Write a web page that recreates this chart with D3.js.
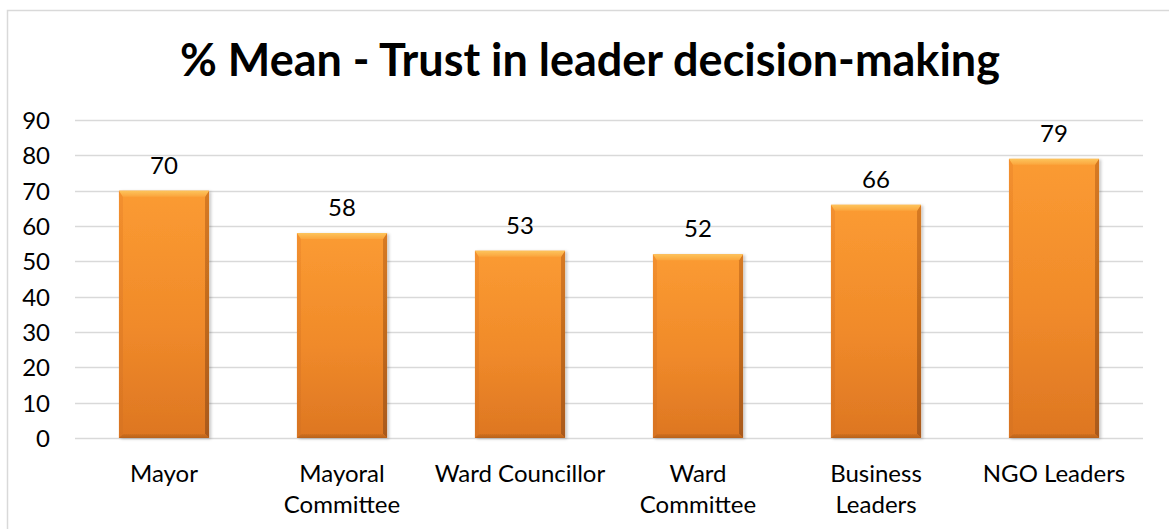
<!DOCTYPE html>
<html>
<head>
<meta charset="utf-8">
<script src="https://cdn.jsdelivr.net/npm/d3@7"></script>
<style>
  html, body { margin: 0; padding: 0; background: #ffffff; }
  svg { display: block; font-family: Lato, "Open Sans", sans-serif; }
</style>
</head>
<body>
<svg id="chart" width="1169" height="529"></svg>
<script>
// Chart content
const title = "% Mean - Trust in leader decision-making";
const categories = ["Mayor", "Mayoral Committee", "Ward Councillor", "Ward Committee", "Business Leaders", "NGO Leaders"];
const categoryLines = [["Mayor"], ["Mayoral", "Committee"], ["Ward Councillor"], ["Ward", "Committee"], ["Business", "Leaders"], ["NGO Leaders"]];
const meanTrust = [70, 58, 53, 52, 66, 79];
const yTicks = [0, 10, 20, 30, 40, 50, 60, 70, 80, 90];

const svg = d3.select("#chart");
const W = 1169, H = 529;
const plot = { left: 75, right: 1143, top: 120, bottom: 438 };

// Chart-area frame (runs past the right and bottom edges)
svg.append("rect")
  .attr("x", 7.5).attr("y", 10.5)
  .attr("width", W + 20).attr("height", H + 20)
  .attr("fill", "#ffffff").attr("stroke", "#d9d9d9").attr("stroke-width", 1.5);

// Scales
const x = d3.scaleBand().domain(categories).range([plot.left, plot.right]).paddingInner(0.494).paddingOuter(0.247);
const y = d3.scaleLinear().domain([0, 90]).range([plot.bottom, plot.top]);

// Gradients for the bevelled bars
const defs = svg.append("defs");
function vGrad(id, stops) {
  const g = defs.append("linearGradient").attr("id", id).attr("x1", 0).attr("y1", 0).attr("x2", 0).attr("y2", 1);
  stops.forEach(([o, c]) => g.append("stop").attr("offset", o).attr("stop-color", c));
}
vGrad("barBody", [["0%", "#fb9b32"], ["55%", "#f08a2a"], ["100%", "#dd7622"]]);
vGrad("barTop", [["0%", "#fdc45c"], ["100%", "#fba53c"]]);
vGrad("barRight", [["0%", "#d77a22"], ["100%", "#a9591a"]]);
vGrad("barLeft", [["0%", "#f3902e"], ["100%", "#d87322"]]);
vGrad("barBottom", [["0%", "#d27020"], ["100%", "#b8621c"]]);
defs.append("filter").attr("id", "shadow").attr("x", "-10%").attr("y", "-5%").attr("width", "130%").attr("height", "115%")
  .append("feDropShadow").attr("dx", 2).attr("dy", 1).attr("stdDeviation", 1.5)
  .attr("flood-color", "#000").attr("flood-opacity", 0.22);

// Gridlines
svg.append("g").selectAll("line").data(yTicks).join("line")
  .attr("x1", plot.left).attr("x2", plot.right)
  .attr("y1", d => Math.round(y(d)) + 0.5).attr("y2", d => Math.round(y(d)) + 0.5)
  .attr("stroke", "#d9d9d9").attr("stroke-width", 1.5);

// Y axis labels
const yAxis = svg.append("g").attr("transform", `translate(${plot.left - 25},0)`)
  .call(d3.axisLeft(y).tickValues(yTicks).tickSize(0).tickPadding(0));
yAxis.select(".domain").remove();
yAxis.selectAll("text")
  .attr("font-family", "Lato, sans-serif").attr("font-size", 24).attr("fill", "#000")
  .attr("dy", "0.36em");

// Bars with bevelled edges
const bt = 6, bs = 4;
const bars = svg.append("g").selectAll("g").data(meanTrust).join("g")
  .attr("filter", "url(#shadow)");
bars.each(function (v, i) {
  const g = d3.select(this);
  const x0 = x(categories[i]), x1 = x0 + x.bandwidth();
  const y0 = y(v), y1 = y(0);
  g.append("rect").attr("x", x0).attr("y", y0).attr("width", x1 - x0).attr("height", y1 - y0).attr("fill", "url(#barBody)");
  // left bevel
  g.append("path").attr("d", `M${x0},${y0}L${x0 + bs},${y0 + bt}L${x0 + bs},${y1 - bs}L${x0},${y1}Z`).attr("fill", "url(#barLeft)");
  // right bevel
  g.append("path").attr("d", `M${x1},${y0}L${x1},${y1}L${x1 - bs},${y1 - bs}L${x1 - bs},${y0 + bt}Z`).attr("fill", "url(#barRight)");
  // bottom bevel
  g.append("path").attr("d", `M${x0},${y1}L${x1},${y1}L${x1 - bs},${y1 - bs}L${x0 + bs},${y1 - bs}Z`).attr("fill", "url(#barBottom)");
  // top bevel
  g.append("path").attr("d", `M${x0},${y0}L${x1},${y0}L${x1 - bs},${y0 + bt}L${x0 + bs},${y0 + bt}Z`).attr("fill", "url(#barTop)");
});

// Value labels
svg.append("g").selectAll("text").data(meanTrust).join("text")
  .attr("x", (d, i) => x(categories[i]) + x.bandwidth() / 2)
  .attr("y", d => y(d) - 17)
  .attr("text-anchor", "middle")
  .attr("font-size", 24).attr("fill", "#000")
  .text(d => d);

// Category labels
const xl = svg.append("g").selectAll("text").data(categories).join("text")
  .attr("x", d => x(d) + x.bandwidth() / 2)
  .attr("y", 482)
  .attr("text-anchor", "middle")
  .attr("font-size", 24).attr("fill", "#000");
xl.each(function (d, i) {
  d3.select(this).selectAll("tspan").data(categoryLines[i]).join("tspan")
    .attr("x", x(d) + x.bandwidth() / 2)
    .attr("dy", (l, j) => j === 0 ? 0 : 31)
    .text(l => l);
});

// Title, sized to span its measured width
const t = svg.append("text")
  .attr("x", 590).attr("y", 76)
  .attr("text-anchor", "middle")
  .attr("font-weight", "bold").attr("font-size", 42).attr("fill", "#000")
  .text(title);
const tw = t.node().getComputedTextLength();
t.attr("font-size", 42 * 820 / tw);
</script>
</body>
</html>
